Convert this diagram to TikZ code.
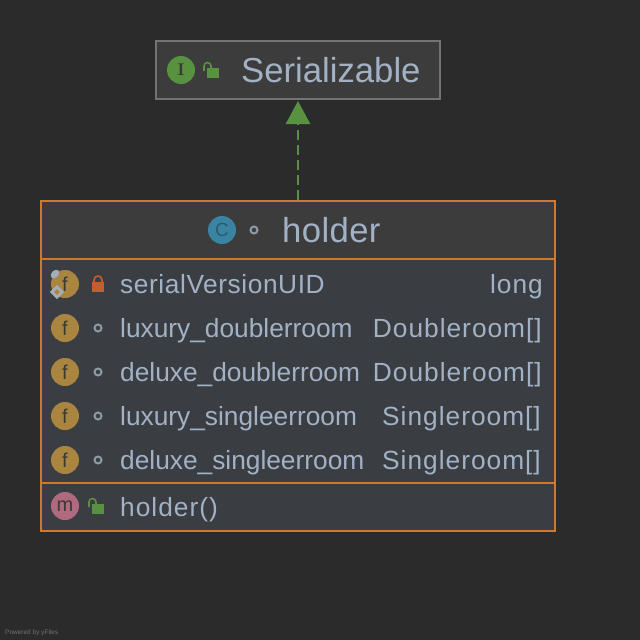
\documentclass[tikz,border=0pt]{standalone}
\usepackage{fontspec}
\setmainfont{Liberation Sans}
\newfontfamily\typefont{Liberation Sans}[LetterSpace=3.8]
\newfontfamily\uidfont{Liberation Sans}[LetterSpace=2.2]
\newfontfamily\titlefont{Liberation Sans}[LetterSpace=1.1]
\usetikzlibrary{arrows.meta}
\definecolor{bgdark}{HTML}{2B2B2B}
\definecolor{headfill}{HTML}{3C3C3C}
\definecolor{bodyfill}{HTML}{3A3E42}
\definecolor{boxgray}{HTML}{737373}
\definecolor{boxorange}{HTML}{C97B35}
\definecolor{labelblue}{HTML}{A3B1C5}
\definecolor{iconink}{HTML}{3A3A32}
\definecolor{classink}{HTML}{2A5A70}
\definecolor{accessgreen}{HTML}{58913F}
\definecolor{lockred}{HTML}{C45F2C}
\definecolor{dotgray}{HTML}{8C9AA6}
\definecolor{classblue}{HTML}{3A84A3}
\definecolor{fieldgold}{HTML}{A9853F}
\definecolor{methodpink}{HTML}{B06A80}
\tikzset{
 member/.style={anchor=base west, inner sep=0, text=labelblue, font=\fontsize{26.3}{26.3}\selectfont},
 typename/.style={anchor=base east, inner sep=0, text=labelblue, font=\typefont\fontsize{26.3}{26.3}\selectfont},
 badge/.style={circle, minimum size=28pt, inner sep=0, text=iconink, font=\fontsize{20}{20}\selectfont},
}
% open and closed padlocks, dot for package access
\newcommand{\openlock}[2]{
 \fill[accessgreen] (#1+3,#2-2) rectangle ++(12,10);
 \draw[accessgreen, line width=1.6pt] (#1,#2+1) --++(0,-5) arc (-180:0:3.5) --++(0,3);
}
\newcommand{\closedlock}[2]{
 \fill[lockred] (#1-6,#2-2) rectangle ++(12,10);
 \draw[lockred, line width=1.6pt] (#1-4,#2-2) --++(0,-2) arc (-180:0:4) --++(0,2);
}
\newcommand{\pkgdot}[2]{
 \draw[dotgray, line width=2pt] (#1,#2) circle (3.5);
}
\begin{document}
\begin{tikzpicture}[x=1pt, y=-1pt]
\useasboundingbox (0,0) rectangle (640,640);
\fill[bgdark] (0,0) rectangle (640,640);
% interface box
\node[draw=boxgray, line width=2pt, fill=headfill, minimum width=284pt, minimum height=58pt, inner sep=0] (iface) at (298,70) {};
\node[badge, fill=accessgreen] (ibadge) at (181,70) {\fontfamily{lmr}\fontsize{17}{17}\selectfont\bfseries I};
\openlock{204}{70}
\node[anchor=base west, inner sep=0, text=labelblue, font=\fontsize{34.7}{34.7}\selectfont] (iname) at (241,82) {Serializable};
% class box
\fill[headfill] (42,202) rectangle (554,258);
\fill[bodyfill] (42,260) rectangle (554,530);
\node[draw=boxorange, line width=2pt, minimum width=514pt, minimum height=330pt, inner sep=0] (holder) at (298,366) {};
\draw[boxorange, line width=2pt] (41,259) -- (555,259);
\draw[boxorange, line width=2pt] (41,483) -- (555,483);
\node[badge, fill=classblue, text=classink] (cbadge) at (222,230) {\fontsize{19}{19}\selectfont C};
\pkgdot{254}{230}
\node[anchor=base west, inner sep=0, text=labelblue, font=\titlefont\fontsize{34.7}{34.7}\selectfont] (cname) at (282,242) {holder};
% fields
\foreach \y/\fname/\ftype/\xend in {284/{\uidfont serialVersionUID}/long/543, 328/luxury\_doublerroom/Doubleroom[]/542, 372/deluxe\_doublerroom/Doubleroom[]/542, 416/luxury\_singleerroom/Singleroom[]/541, 460/deluxe\_singleerroom/Singleroom[]/541} {
 \node[badge, fill=fieldgold] (f\y) at (65,\y) {\raisebox{-1pt}{f}};
 \node[member] (n\y) at (120,\y+9) {\fname};
 \node[typename] (t\y) at (\xend,\y+9) {\ftype};
}
\foreach \y in {328,372,416,460} {
 \pkgdot{98}{\y}
}
\closedlock{98}{284}
% static mark on the first field
\fill[dotgray!80!white, rotate around={45:(55,274)}] (55,274) ellipse (5 and 3.5);
\fill[dotgray!80!white, rotate around={45:(57,292)}] (52,287) rectangle (62,297);
\fill[fieldgold, rotate around={45:(57,292)}] (55,290) rectangle (59,294);
% constructor
\node[badge, fill=methodpink] (mbadge) at (65,506) {\raisebox{-2pt}{m}};
\openlock{89}{506}
\node[member, font=\typefont\fontsize{26.3}{26.3}\selectfont] (mname) at (120,516) {holder()};
% realization arrow
\draw[accessgreen, line width=2.4pt, dash pattern=on 10pt off 5pt, -{Triangle[width=24pt,length=23pt]}, shorten >=1pt] (holder.north) -- (iface.south);
\node[anchor=base west, inner sep=0, text=white!33!bgdark, font=\fontsize{6.5}{6.5}\selectfont] (yfiles) at (5,634) {Powered by yFiles};
\end{tikzpicture}
\end{document}
